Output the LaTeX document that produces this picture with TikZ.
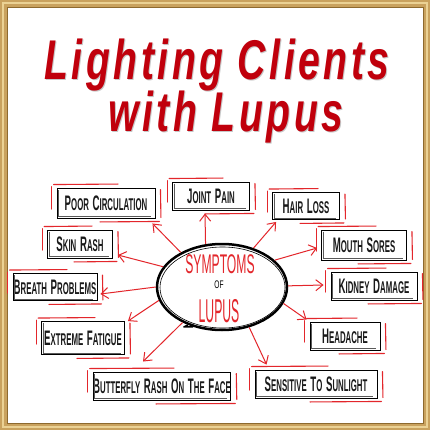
\documentclass[tikz,border=0pt]{standalone}
\usepackage{fontspec}
\setmainfont{Liberation Sans}
\newfontfamily\titlefont[LetterSpace=9]{Liberation Sans}
\usetikzlibrary{shapes.geometric,arrows.meta}
\definecolor{gold}{HTML}{C9A25E}
\definecolor{goldlight}{HTML}{EBD294}
\definecolor{golddark}{HTML}{8E6A2E}
\definecolor{titlered}{HTML}{C0000C}
\definecolor{linered}{HTML}{E3262B}
\newcommand\w[2]{{\fontsize{21}{21}\selectfont #1}{\fontsize{17}{17}\selectfont #2}}
\newcommand\gap{\hspace{8pt}}
\newcommand\bxt[1]{\scalebox{0.46}[1]{\bfseries #1}}
\tikzset{
  box/.style={draw=black, line width=0.9pt, rectangle, inner sep=0pt, text=black!90},
  redline/.style={draw=linered, line width=1.1pt, line cap=round},
  shade2/.style={draw=black!65, line width=0.6pt},
  arr/.style={draw=linered, line width=1pt, -{Straight Barb[length=7pt,width=11pt,line width=1pt]}},
  titletext/.style={font=\titlefont\fontsize{56}{56}\selectfont\bfseries\itshape, text=titlered, anchor=base, inner sep=0pt},
  shadowtext/.style={font=\titlefont\fontsize{56}{56}\selectfont\bfseries\itshape, text=black!22, anchor=base, inner sep=0pt},
  bubbletext/.style={text=linered, inner sep=0pt},
}
\begin{document}
\begin{tikzpicture}[x=1pt,y=-1pt]
\useasboundingbox (0,0) rectangle (430,430);
% frame
\fill[gold] (0,0) rectangle (430,430);
\draw[goldlight, line width=2pt] (3,3) rectangle (427,427);
\fill[white] (7,7) rectangle (423,423);
\draw[golddark, line width=0.8pt] (7,7) rectangle (423,423);
% title
\node[shadowtext] (ts1) at (218,81) {\scalebox{0.7}[1]{Lighting Clients}};
\node[shadowtext] (ts2) at (227,133) {\scalebox{0.7}[1]{with Lupus}};
\node[titletext] (t1) at (217,80) {\scalebox{0.7}[1]{Lighting Clients}};
\node[titletext] (t2) at (226,132) {\scalebox{0.7}[1]{with Lupus}};
% bubble
\node[ellipse, draw=black, line width=2.5pt, minimum width=130pt, minimum height=86pt] (sym) at (222,287) {};
\draw[black, line width=0.6pt] (222.5,287.5) ellipse [x radius=62.5pt, y radius=40.5pt];
\draw[black, line width=1.4pt, line join=round] (sym.228) -- ++(-4,2) -- (sym.234);
\node[bubbletext, font=\fontsize{27}{27}\selectfont] (s1) at (220,264) {\scalebox{0.45}[1]{SYMPTOMS}};
\node[text=black, inner sep=0pt, font=\fontsize{11}{11}\selectfont] (s2) at (219,285) {\scalebox{0.6}[1]{OF}};
\node[bubbletext, font=\fontsize{33}{33}\selectfont] (s3) at (219,311) {\scalebox{0.37}[1]{LUPUS}};
% boxes
\node[box, minimum width=98pt, minimum height=30pt] (pc) at (106,203) {\bxt{\w{P}{OOR}\gap\w{C}{IRCULATION}}};
\node[box, minimum width=77pt, minimum height=28pt] (jp) at (211,196) {\bxt{\w{J}{OINT}\gap\w{P}{AIN}}};
\node[box, minimum width=67pt, minimum height=27pt] (hl) at (306,206) {\bxt{\w{H}{AIR}\gap\w{L}{OSS}}};
\node[box, minimum width=85pt, minimum height=30pt] (ms) at (364,245) {\bxt{\w{M}{OUTH}\gap\w{S}{ORES}}};
\node[box, minimum width=86pt, minimum height=28pt] (kd) at (374,286) {\bxt{\w{K}{IDNEY}\gap\w{D}{AMAGE}}};
\node[box, minimum width=65pt, minimum height=28pt] (sr) at (80,244) {\bxt{\w{S}{KIN}\gap\w{R}{ASH}}};
\node[box, minimum width=84pt, minimum height=27pt] (bp) at (55,287) {\bxt{\w{B}{REATH}\gap\w{P}{ROBLEMS}}};
\node[box, minimum width=83pt, minimum height=33pt] (ef) at (83,338) {\bxt{\w{E}{XTREME}\gap\w{F}{ATIGUE}}};
\node[box, minimum width=135pt, minimum height=28pt] (bf) at (162,386) {\bxt{\w{B}{UTTERFLY}\gap\w{R}{ASH}\gap\w{O}{N}\gap\w{T}{HE}\gap\w{F}{ACE}}};
\node[box, minimum width=70pt, minimum height=28pt] (ha) at (345,336) {\bxt{\w{H}{EADACHE}}};
\node[box, minimum width=122pt, minimum height=28pt] (ss) at (316,384) {\bxt{\w{S}{ENSITIVE}\gap\w{T}{O}\gap\w{S}{UNLIGHT}}};
% sketch decorations
\foreach \n in {pc,jp,hl,ms,kd,sr,bp,ef,bf,ha,ss}{
  \draw[shade2] ([shift={(2,2)}]\n.north west) -- ([shift={(2,-2)}]\n.south west) -- ([shift={(-4,-2)}]\n.south east);
  \draw[redline] ([shift={(-3,-3)}]\n.north west) -- ([shift={(12,-3.5)}]\n.north);
  \draw[redline] ([shift={(-5,-1)}]\n.north west) -- ([shift={(-5,6)}]\n.west);
  \draw[redline] ([shift={(5,2)}]\n.north east) -- ([shift={(5.5,-1)}]\n.south east);
  \draw[redline] ([shift={(-6,3.5)}]\n.south) -- ([shift={(4,3)}]\n.south east);
}
% arrows
\draw[arr] (sym.140) -- ([shift={(-3,5)}]pc.south east);
\draw[arr] (sym.111) -- ([shift={(-6,3)}]jp.south);
\draw[arr] (sym.51) -- ([shift={(4,2)}]hl.south west);
\draw[arr] (sym.27) -- ([shift={(-4,3)}]ms.west);
\draw[arr] (sym.1) -- ([shift={(-7,-1)}]kd.west);
\draw[arr] (sym.-15) -- ([shift={(-3,-2)}]ha.north west);
\draw[arr] (sym.-56) -- ([shift={(12,-5)}]ss.north west);
\draw[arr] (sym.222) -- ([shift={(-19,-10)}]bf.north);
\draw[arr] (sym.192) -- ([shift={(3,0)}]ef.north east);
\draw[arr] (sym.180) -- ([shift={(3,7)}]bp.east);
\draw[arr] (sym.161) -- ([shift={(5,11)}]sr.east);
\end{tikzpicture}
\end{document}
